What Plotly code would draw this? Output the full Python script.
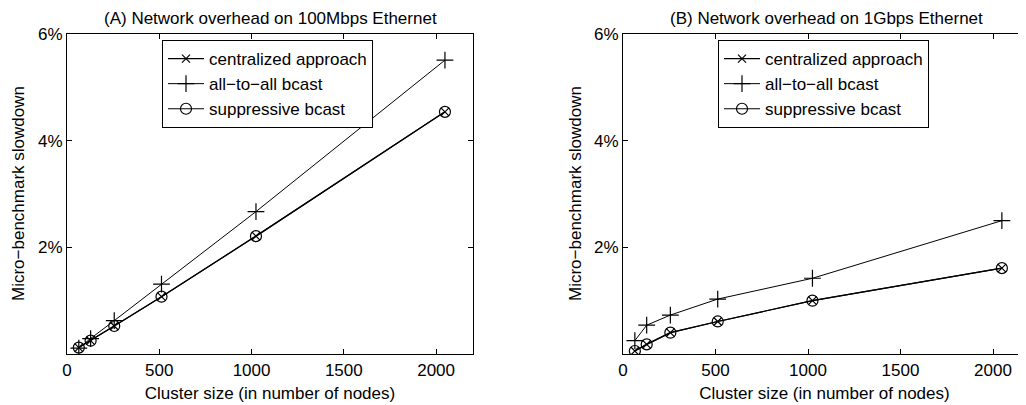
import plotly.graph_objects as go

nodes = [64, 128, 256, 512, 1024, 2048]

a_central = [0.12, 0.25, 0.525, 1.075, 2.21, 4.54]
a_all = [0.11, 0.29, 0.625, 1.31, 2.67, 5.51]
a_supp = [0.12, 0.25, 0.525, 1.075, 2.21, 4.54]

b_central = [0.056, 0.18, 0.40, 0.61, 1.00, 1.61]
b_all = [0.25, 0.54, 0.73, 1.03, 1.42, 2.50]
b_supp = [0.056, 0.18, 0.40, 0.61, 1.00, 1.61]

series_names = ["centralized approach", "all\u2212to\u2212all bcast", "suppressive bcast"]
panel_titles = ["(A) Network overhead on 100Mbps Ethernet", "(B) Network overhead on 1Gbps Ethernet"]
x_title = "Cluster size (in number of nodes)"
y_title = "Micro\u2212benchmark slowdown"
x_ticks = [0, 500, 1000, 1500, 2000]
y_ticks = [2, 4, 6]
y_tick_text = ["2%", "4%", "6%"]

# the page body has an 8px margin: the figure is drawn 8px in from the window corner
OFF = 8
W, H = 1026 - OFF, 405 - OFF
FONT = "Liberation Sans, Arial, Helvetica, sans-serif"
FS = 17

fig = go.Figure()

symbols = ["x-thin", "cross-thin", "circle-open"]
sizes = [8, 12, 11]
widths = [1.2, 1.0, 1.2]

panels = [
    ("x", "y", "legend", [a_central, a_all, a_supp]),
    ("x2", "y2", "legend2", [b_central, b_all, b_supp]),
]
for xa, ya, lg, data in panels:
    for name, vals, sym, sz, lw in zip(series_names, data, symbols, sizes, widths):
        fig.add_trace(go.Scatter(
            x=nodes, y=vals, name=name, xaxis=xa, yaxis=ya, legend=lg,
            mode="lines+markers",
            line=dict(color="black", width=lw),
            marker=dict(symbol=sym, size=sz, color="black",
                        line=dict(color="black", width=1.2)),
        ))

def px_x(p):
    return (p - OFF) / W

def px_y(p):
    return 1 - (p - OFF) / H

ydom = [px_y(354), px_y(34)]
axis_common = dict(
    showline=True, linecolor="black", linewidth=1.2,
    ticks="inside", ticklen=5, tickcolor="black", tickwidth=1,
    showgrid=False, zeroline=False,
    tickfont=dict(family=FONT, size=FS, color="black"),
    automargin=False,
)

legend_common = dict(
    xanchor="left", yanchor="top",
    bgcolor="white", bordercolor="black", borderwidth=1,
    font=dict(family=FONT, size=FS, color="black"),
    itemwidth=36, tracegroupgap=0,
)

fig.update_layout(
    width=W, height=H,
    margin=dict(l=0, r=0, t=0, b=0),
    paper_bgcolor="white", plot_bgcolor="white",
    font=dict(family=FONT, size=FS, color="black"),
    xaxis=dict(domain=[px_x(67), px_x(473)], range=[0, 2200], tickvals=x_ticks,
               mirror="ticks", anchor="y",
               title=dict(text=x_title, standoff=8, font=dict(size=FS)), **axis_common),
    yaxis=dict(domain=ydom, range=[0, 6], tickvals=y_ticks, ticktext=y_tick_text,
               mirror="ticks", anchor="x", **axis_common),
    xaxis2=dict(domain=[px_x(623), 1.0], range=[0, 2000 * (1026 - 623) / 370], tickvals=x_ticks,
                mirror="ticks", anchor="y2",
                title=dict(text=x_title, standoff=8, font=dict(size=FS)), **axis_common),
    yaxis2=dict(domain=ydom, range=[0, 6], tickvals=y_ticks, ticktext=y_tick_text,
                mirror=False, anchor="x2", **axis_common),
    legend=dict(x=px_x(162), y=px_y(40), **legend_common),
    legend2=dict(x=px_x(718), y=px_y(40), **legend_common),
    showlegend=True,
)

annotations = []
for title, cx in zip(panel_titles, [270, 826]):
    annotations.append(dict(text=title, x=px_x(cx), y=1.0, xref="paper", yref="paper",
                            showarrow=False, xanchor="center", yanchor="top", borderpad=0,
                            font=dict(family=FONT, size=FS, color="black")))
for cx in [18, 575]:
    annotations.append(dict(text=y_title, x=px_x(cx), y=px_y(194), xref="paper", yref="paper",
                            showarrow=False, xanchor="center", yanchor="middle", textangle=-90,
                            font=dict(family=FONT, size=FS, color="black")))
fig.update_layout(annotations=annotations)

fig.write_html("out.html")
